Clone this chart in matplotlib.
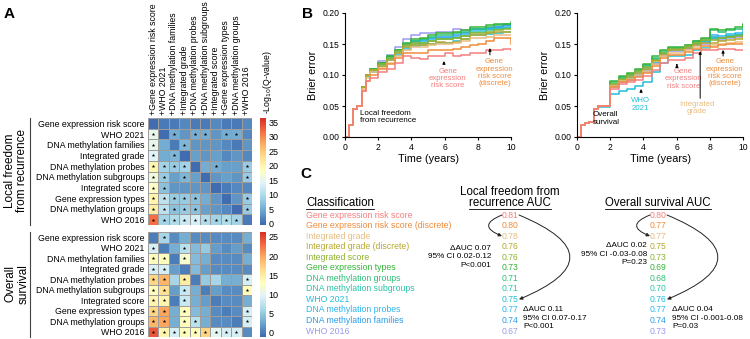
import matplotlib
matplotlib.use("Agg")
import matplotlib.pyplot as plt
from matplotlib.colors import LinearSegmentedColormap
import numpy as np

plt.rcParams['font.family'] = ['Liberation Sans', 'DejaVu Sans']

W, H = 750, 339

# === Panel A data: -log10(Q) heatmaps ===
hm_rows = ["Gene expression risk score", "WHO 2021", "DNA methylation families",
           "Integrated grade", "DNA methylation probes", "DNA methylation subgroups",
           "Integrated score", "Gene expression types", "DNA methylation groups", "WHO 2016"]
hm_cols = ["+" + r for r in hm_rows]

lffr_q = [
    [0, 1, 1, 2, 1, 1, 2, 1, 1, 2],
    [15, 0, 5, 3, 5, 5, 3, 5, 5, 2],
    [15, 5, 1, 6, 3, 3, 3, 2, 1, 3],
    [14, 5, 6, 0, 4, 3, 4, 2, 3, 2],
    [20, 9, 8, 9, 0, 5, 5, 4, 4, 8],
    [16, 8, 4, 6, 4, 0, 3, 4, 3, 8],
    [18, 7, 3, 3, 3, 3, 0, 1, 2, 2],
    [20, 11, 8, 8, 7, 5, 3, 0, 3, 8],
    [21, 11, 7, 8, 7, 4, 3, 2, 0, 8],
    [32, 9, 10, 12, 13, 10, 9, 10, 9, 1],
]
lffr_sig = ["..........", "*.*.**.**.", "*..*......", "*.*.......", "****..*..*",
            "**.*.....*", "**........", "*****....*", "*****....*", "*********."]

os_q = [
    [0, 6, 1, 3, 1, 1, 1, 1, 1, 3],
    [9, 0, 3, 7, 4, 5, 2, 1, 2, 1],
    [13, 13, 0, 12, 4, 3, 1, 1, 1, 3],
    [9, 9, 2, 0, 4, 2, 1, 1, 1, 1],
    [17, 19, 6, 15, 0, 5, 6, 3, 3, 9],
    [13, 16, 2, 8, 3, 0, 2, 1, 1, 13],
    [14, 14, 0, 8, 3, 2, 0, 1, 1, 3],
    [17, 20, 3, 13, 4, 3, 1, 0, 1, 9],
    [19, 20, 3, 13, 7, 3, 1, 1, 0, 9],
    [24, 14, 9, 13, 13, 17, 10, 9, 9, 1],
]
os_sig = [".*........", "*..*......", "**.*......", "**........", "**.*.....*",
          "**.*.....*", "**.*......", "**.*.....*", "**.**....*", "*********."]

# === Panel B/C data ===
classes = ["Gene expression risk score", "Gene expression risk score (discrete)",
           "Integrated grade", "Integrated grade (discrete)", "Integrated score",
           "Gene expression types", "DNA methylation groups", "DNA methylation subgroups",
           "WHO 2021", "DNA methylation probes", "DNA methylation families", "WHO 2016"]
class_colors = ["#F47F7F", "#F08C3A", "#E8BC80", "#B8A92E", "#8DB32F", "#36B43A",
                "#2DBF78", "#2DC3A8", "#22BFD8", "#2DB6EE", "#2C9DEC", "#9A9AF0"]
auc_lffr = [0.81, 0.80, 0.78, 0.76, 0.76, 0.73, 0.71, 0.71, 0.75, 0.77, 0.74, 0.67]
auc_os = [0.80, 0.77, 0.77, 0.75, 0.73, 0.69, 0.68, 0.70, 0.76, 0.77, 0.74, 0.73]

years = [0, .25, .5, .75, 1, 1.25, 1.5, 2, 2.5, 3, 3.5, 4, 4.5, 5, 5.5, 6, 6.5, 7, 7.5, 8, 8.5, 9, 9.5, 10]

brier_lffr = [
    [0, .02, .045, .05, .075, .09, .095, .105, .11, .12, .13, .127, .126, .13, .13, .135, .13, .132, .135, .135, .14, .14, .142, .14],
    [0, .02, .045, .05, .075, .09, .1, .11, .118, .127, .135, .135, .135, .14, .14, .14, .142, .145, .148, .15, .155, .16, .16, .15],
    [0, .02, .045, .05, .078, .095, .105, .112, .12, .13, .14, .145, .145, .148, .15, .15, .152, .155, .16, .16, .162, .165, .165, .165],
    [0, .02, .045, .05, .08, .1, .108, .115, .125, .135, .145, .148, .148, .15, .153, .152, .153, .158, .165, .165, .168, .17, .17, .17],
    [0, .02, .045, .05, .08, .1, .108, .118, .128, .138, .148, .152, .152, .155, .158, .158, .16, .163, .168, .168, .17, .172, .175, .175],
    [0, .02, .045, .05, .08, .1, .11, .12, .13, .14, .152, .158, .16, .165, .168, .168, .17, .172, .178, .178, .18, .182, .183, .185],
    [0, .02, .045, .05, .08, .1, .11, .12, .13, .14, .15, .155, .158, .162, .165, .165, .168, .17, .175, .175, .178, .18, .182, .183],
    [0, .02, .045, .05, .08, .1, .108, .118, .127, .136, .145, .15, .152, .155, .158, .158, .16, .163, .17, .17, .172, .175, .176, .178],
    [0, .02, .045, .05, .08, .098, .105, .115, .125, .133, .142, .147, .148, .15, .152, .152, .155, .158, .165, .165, .166, .168, .17, .17],
    [0, .02, .045, .05, .08, .1, .108, .118, .128, .138, .148, .153, .155, .158, .16, .16, .162, .165, .172, .172, .174, .176, .178, .18],
    [0, .02, .045, .05, .08, .1, .11, .12, .13, .14, .15, .155, .157, .16, .162, .162, .165, .168, .174, .174, .176, .178, .18, .182],
    [0, .02, .045, .05, .08, .1, .11, .122, .133, .145, .158, .165, .168, .168, .17, .17, .175, .172, .175, .175, .176, .178, .18, .18],
]

brier_os = [
    [0, .02, .022, .025, .045, .05, .05, .078, .085, .088, .092, .098, .108, .12, .125, .125, .128, .135, .14, .14, .142, .142, .14, .14],
    [0, .02, .022, .025, .045, .05, .05, .08, .088, .092, .097, .103, .115, .128, .133, .133, .137, .142, .147, .145, .148, .15, .15, .15],
    [0, .02, .022, .025, .045, .05, .05, .082, .09, .094, .1, .107, .118, .13, .136, .136, .14, .145, .142, .148, .15, .152, .153, .153],
    [0, .02, .022, .025, .045, .05, .05, .084, .092, .097, .103, .11, .122, .133, .14, .14, .143, .148, .152, .152, .155, .157, .158, .16],
    [0, .02, .022, .025, .045, .05, .05, .085, .094, .1, .106, .113, .125, .136, .142, .142, .146, .152, .157, .157, .16, .162, .163, .165],
    [0, .02, .022, .025, .045, .05, .05, .09, .098, .104, .11, .118, .13, .14, .145, .145, .148, .155, .16, .175, .172, .175, .178, .183],
    [0, .02, .022, .025, .045, .05, .05, .088, .097, .102, .108, .116, .128, .138, .144, .144, .148, .155, .158, .173, .17, .173, .175, .18],
    [0, .02, .022, .025, .045, .05, .05, .086, .095, .1, .106, .114, .126, .136, .142, .143, .146, .152, .155, .16, .16, .163, .165, .168],
    [0, .02, .022, .025, .045, .048, .048, .07, .075, .078, .082, .088, .105, .12, .13, .13, .133, .14, .143, .16, .16, .162, .165, .168],
    [0, .02, .022, .025, .045, .05, .05, .084, .093, .098, .104, .112, .124, .135, .141, .141, .145, .15, .155, .165, .163, .166, .168, .172],
    [0, .02, .022, .025, .045, .05, .05, .082, .09, .095, .1, .108, .12, .133, .14, .14, .143, .15, .153, .162, .16, .163, .165, .168],
    [0, .02, .022, .025, .045, .05, .05, .08, .088, .092, .098, .105, .118, .13, .138, .138, .142, .148, .15, .158, .157, .16, .162, .165],
]

fig = plt.figure(figsize=(W / 100, H / 100), dpi=100)

# RdYlBu_r without its darkest ends, closer to the reference's steel blue -> red
_base = plt.get_cmap('RdYlBu_r')
heat_cmap = LinearSegmentedColormap.from_list('heat', _base(np.linspace(0.08, 0.9, 256)))


def px_axes(x, y, w, h):
    # pixel box (top-left origin) -> figure fraction axes
    return fig.add_axes([x / W, 1 - (y + h) / H, w / W, h / H])


# === Panel A ===
def draw_heatmap(ax, cax, vals, sig, vmin, vmax, ticks, show_cols):
    vals = np.array(vals, float)
    mesh = ax.pcolormesh(vals, cmap=heat_cmap, vmin=vmin, vmax=vmax,
                         edgecolors='#9c9c9c', linewidth=0.6)
    ax.set_xlim(0, 10)
    ax.set_ylim(10, 0)
    mask = np.array([[c == '*' for c in row] for row in sig])
    ys, xs = np.nonzero(mask)
    ax.scatter(xs + 0.5, ys + 0.5, marker='*', s=7, color='k', linewidths=0, zorder=3)
    ax.set_yticks(np.arange(10) + 0.5, hm_rows, fontsize=6.3)
    ax.tick_params(length=0, pad=2.5)
    if show_cols:
        ax.xaxis.tick_top()
        ax.set_xticks(np.arange(10) + 0.5, hm_cols, rotation=90, fontsize=6.3)
    else:
        ax.set_xticks([])
    for s in ax.spines.values():
        s.set_visible(False)
    cb = fig.colorbar(mesh, cax=cax, ticks=ticks)
    cb.outline.set_visible(False)
    cb.ax.tick_params(length=0, labelsize=6.5, pad=2)


ax_top = px_axes(148, 118, 104, 107)
cax_top = px_axes(260, 118, 6, 107)
draw_heatmap(ax_top, cax_top, lffr_q, lffr_sig, -0.5, 36.5, range(0, 36, 5), True)

ax_bot = px_axes(148, 232, 104, 105)
cax_bot = px_axes(260, 232, 6, 105)
draw_heatmap(ax_bot, cax_bot, os_q, os_sig, -1.2, 26.3, range(0, 26, 5), False)

# === Panel B ===
def draw_brier(ax, data):
    # last classes first so the green / orange / red curves end up on top
    for vals, col in reversed(list(zip(data, class_colors))):
        ax.plot(years, vals, drawstyle='steps-post', color=col, lw=1.1)
    ax.set_xlim(0, 10)
    ax.set_ylim(0, 0.2)
    ax.set_xticks(range(0, 11, 2))
    ax.set_yticks([0, 0.05, 0.10, 0.15, 0.20])
    ax.yaxis.set_major_formatter(matplotlib.ticker.FormatStrFormatter('%.2f'))
    ax.spines[['top', 'right']].set_visible(False)
    for s in ax.spines.values():
        s.set_linewidth(0.8)
    ax.tick_params(labelsize=6.2, length=2.5, width=0.8, pad=1.5)
    ax.set_ylabel("Brier error", fontsize=7.8, labelpad=3)
    ax.set_xlabel("Time (years)", fontsize=7.8, labelpad=2)


def label_arrow(ax, text, color, tx, ty, ax_x, y0, y1):
    ax.text(tx, ty, text, color=color, fontsize=5.6, ha='center', va='top', linespacing=1.05)
    ax.annotate('', xy=(ax_x, y1), xytext=(ax_x, y0),
                arrowprops=dict(arrowstyle='-|>', color='k', lw=0.7, mutation_scale=4))


axB1 = px_axes(345, 13, 166, 124)
draw_brier(axB1, brier_lffr)
axB1.text(0.9, 0.032, "Local freedom\nfrom recurrence", fontsize=5.8, va='center', linespacing=1.1)
label_arrow(axB1, "Gene\nexpression\nrisk score", class_colors[0], 6.2, 0.112, 5.96, 0.114, 0.127)
label_arrow(axB1, "Gene\nexpression\nrisk score\n(discrete)", class_colors[1], 9.0, 0.127, 8.73, 0.128, 0.148)

axB2 = px_axes(577, 13, 166, 124)
draw_brier(axB2, brier_os)
axB2.text(0.95, 0.03, "Overall\nsurvival", fontsize=5.8, va='center', linespacing=1.1)
label_arrow(axB2, "WHO\n2021", class_colors[8], 3.8, 0.064, 3.86, 0.067, 0.082)
label_arrow(axB2, "Gene\nexpression\nrisk score", class_colors[0], 6.4, 0.111, 6.02, 0.112, 0.122)
label_arrow(axB2, "Gene\nexpression\nrisk score\n(discrete)", class_colors[1], 8.9, 0.127, 8.8, 0.126, 0.145)
label_arrow(axB2, "Integrated\ngrade", class_colors[2], 7.2, 0.058, 7.42, 0.058, 0.143)

# === Overlay in pixel coordinates: panel labels, side labels, panel C ===
ov = fig.add_axes([0, 0, 1, 1], zorder=5)
ov.set_xlim(0, W)
ov.set_ylim(H, 0)
ov.axis('off')

for lab, x, y in [("A", 4, 14), ("B", 302, 14), ("C", 300, 174)]:
    ov.text(x, y, lab, fontsize=11, fontweight='bold', va='center')

ov.text(267, 114, r"-Log$_{10}$(Q-value)", rotation=90, fontsize=6.3, ha='center', va='bottom')

ov.plot([30, 30], [118, 225], color='#444444', lw=0.8)
ov.plot([30, 30], [232, 337], color='#444444', lw=0.8)
ov.text(16, 171, "Local freedom\nfrom recurrence", rotation=90, fontsize=8.5,
        ha='center', va='center', linespacing=1.05)
ov.text(17, 284, "Overall\nsurvival", rotation=90, fontsize=8.5,
        ha='center', va='center', linespacing=1.05)

# panel C table
row_y = [215 + 10.55 * i for i in range(len(classes))]
x_left, x_right = 510, 658
t_cls = ov.text(306, 203, "Classification", fontsize=8.3, va='center')
ov.text(x_left, 192, "Local freedom from", fontsize=8.3, ha='center', va='center')
t_lf = ov.text(x_left, 203, "recurrence AUC", fontsize=8.3, ha='center', va='center')
t_os = ov.text(x_right, 203, "Overall survival AUC", fontsize=8.3, ha='center', va='center')

for name, col, y, a1, a2 in zip(classes, class_colors, row_y, auc_lffr, auc_os):
    ov.text(306, y, name, color=col, fontsize=6.3, va='center')
    ov.text(x_left, y, f"{a1:.2f}", color=col, fontsize=6.2, ha='center', va='center')
    ov.text(x_right, y, f"{a2:.2f}", color=col, fontsize=6.2, ha='center', va='center')


def curved(x0, y0, x1, y1, rad):
    ov.annotate('', xy=(x1, y1), xytext=(x0, y0),
                arrowprops=dict(arrowstyle='-|>', color='#222222', lw=0.7, mutation_scale=5,
                                shrinkA=0, shrinkB=0, connectionstyle=f"arc3,rad={rad}"))


# positive rad bulges left, negative bulges right (top -> bottom)
curved(502, row_y[0], 502, row_y[2], 1.25)
curved(519, row_y[0], 519, row_y[8], -1.2)
curved(650, row_y[0], 650, row_y[2], 1.25)
curved(667, row_y[0], 667, row_y[8], -1.2)

stat_kw = dict(fontsize=5.9, va='center', linespacing=1.3)
ov.text(491, 257, "ΔAUC 0.07\n95% CI 0.02-0.12\nP<0.001", ha='right', multialignment='right', **stat_kw)
ov.text(523, 318, "ΔAUC 0.11\n95% CI 0.07-0.17\nP<0.001", ha='left', **stat_kw)
ov.text(647, 254, "ΔAUC 0.02\n95% CI -0.03-0.08\nP=0.23", ha='right', multialignment='right', **stat_kw)
ov.text(672, 318, "ΔAUC 0.04\n95% CI -0.001-0.08\nP=0.03", ha='left', **stat_kw)

# underline the headers
fig.canvas.draw()
inv = ov.transData.inverted()
for t in (t_cls, t_lf, t_os):
    bb = t.get_window_extent()
    (xa, ya), (xb, yb) = inv.transform([[bb.x0, bb.y0], [bb.x1, bb.y1]])
    ov.plot([xa, xb], [ya - 0.5, ya - 0.5], color='k', lw=0.6)

fig.savefig("out.png", dpi=100)
